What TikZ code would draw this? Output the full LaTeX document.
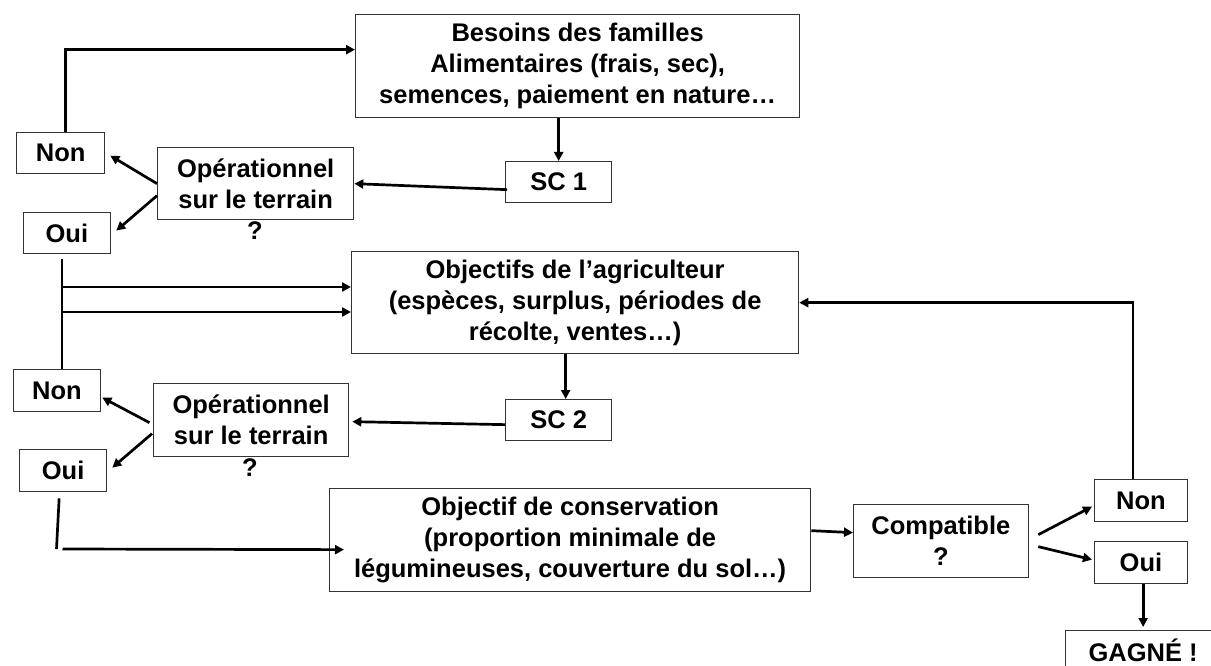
\documentclass[tikz,border=0pt]{standalone}
\usepackage{fontspec}
\setmainfont{Liberation Sans}
\usetikzlibrary{arrows.meta,calc}
\begin{document}
\begin{tikzpicture}[x=1pt,y=-1pt,
  box/.style={draw=black!80,line width=1.3pt,inner sep=0pt,anchor=north west,align=center,font=\bfseries\fontsize{25.5}{31}\selectfont},
  arr/.style={line width=2.7pt,-{Triangle[length=9pt,width=9pt]}},
  ln/.style={line width=2.7pt},
  lbl/.style={font=\bfseries\fontsize{25.5}{31}\selectfont,inner sep=0pt}]
\clip (0,0) rectangle (1211,666);
\fill[white] (0,0) rectangle (1211,666);

% nodes
\node[box,minimum width=444pt,minimum height=103pt] (b1) at (355,14) {Besoins des familles\\Alimentaires (frais, sec),\\semences, paiement en nature…};
\node[box,minimum width=106pt,minimum height=41pt] (sc1) at (505,161) {SC 1};
\node[box,minimum width=196pt,minimum height=72pt] (op1) at (157,147) {Opérationnel\\sur le terrain};
\node[lbl] (q1) at (255,231) {?};
\node[box,minimum width=88pt,minimum height=41pt] (non1) at (16,132) {Non};
\node[box,minimum width=87.5pt,minimum height=41pt] (oui1) at (22.5,212) {Oui};

\node[box,minimum width=447pt,minimum height=102pt] (b2) at (351,251) {Objectifs de l’agriculteur\\(espèces, surplus, périodes de\\récolte, ventes…)};
\node[box,minimum width=106pt,minimum height=41pt] (sc2) at (505,399) {SC 2};
\node[box,minimum width=195pt,minimum height=73pt] (op2) at (153,383) {Opérationnel\\sur le terrain};
\node[lbl] (q2) at (250,468) {?};
\node[box,minimum width=87.4pt,minimum height=42pt] (non2) at (12.6,369) {Non};
\node[box,minimum width=87pt,minimum height=42pt] (oui2) at (19,449) {Oui};

\node[box,minimum width=481pt,minimum height=103pt] (b3) at (329,488) {Objectif de conservation\\(proportion minimale de\\légumineuses, couverture du sol…)};
\node[box,minimum width=174.5pt,minimum height=73pt] (comp) at (853,504) {Compatible\\?};
\node[box,minimum width=92.5pt,minimum height=42pt] (non3) at (1094,479) {Non};
\node[box,minimum width=92.5pt,minimum height=42pt] (oui3) at (1094,541) {Oui};
\node[box,minimum width=156pt,minimum height=40pt] (gagne) at (1064.5,630) {GAGNÉ !};

% connectors, top part
\draw[arr] ([xshift=5pt]non1.north) |- ([yshift=16.5pt]b1.west);
\draw[arr] (sc1.north |- b1.south) -- (sc1.north);
\draw[arr] ([xshift=2pt,yshift=-7.5pt]sc1.west) -- (op1.east);
\draw[arr] (op1.west) -- ([xshift=5pt,yshift=-2.5pt]non1.east);
\draw[arr] ([yshift=-12pt]op1.west) -- ([xshift=5pt,yshift=2.5pt]oui1.east);

% junction line from Oui to Non
\coordinate (j1) at (61,287);
\coordinate (j2) at (61,312);
\draw[ln] ([xshift=-5pt,yshift=-5pt]oui1.south) -- ([xshift=-5pt]oui1.south |- non2.north);
\draw[arr] (j1) -- (j1 -| b2.west);
\draw[arr] (j2) -- (j2 -| b2.west);

% middle part
\draw[arr] ([xshift=7pt]sc2.north |- b2.south) -- ([xshift=7pt]sc2.north);
\draw[arr] ([yshift=-4.5pt]sc2.west) -- ([xshift=3pt,yshift=-1.5pt]op2.east);
\draw[arr] ([xshift=-3.5pt,yshift=-2.5pt]op2.west) -- ([xshift=1pt,yshift=-7pt]non2.east);
\draw[arr] ([xshift=-1pt,yshift=-13.5pt]op2.west) -- ([xshift=5pt,yshift=3pt]oui2.east);

% bottom part
\coordinate (k) at (56.5,549);
\draw[ln] ([xshift=-4pt,yshift=-6pt]oui2.south) -- (k);
\draw[arr] ([xshift=6pt]k) -- ([xshift=15pt,yshift=-9.5pt]b3.west);
\draw[arr] ([yshift=9.5pt]b3.east) -- ([yshift=8.5pt]comp.west);
\draw[arr] ([xshift=9.5pt,yshift=6.5pt]comp.east) -- ([xshift=-2pt,yshift=-6pt]non3.west);
\draw[arr] ([xshift=9.5pt,yshift=-5.5pt]comp.east) -- ([xshift=-2pt,yshift=3pt]oui3.west);
\draw[arr] ([xshift=-8pt]non3.north) |- (b2.east);
\draw[arr] (gagne.north |- oui3.south) -- ([yshift=3pt]gagne.north);
\end{tikzpicture}
\end{document}
